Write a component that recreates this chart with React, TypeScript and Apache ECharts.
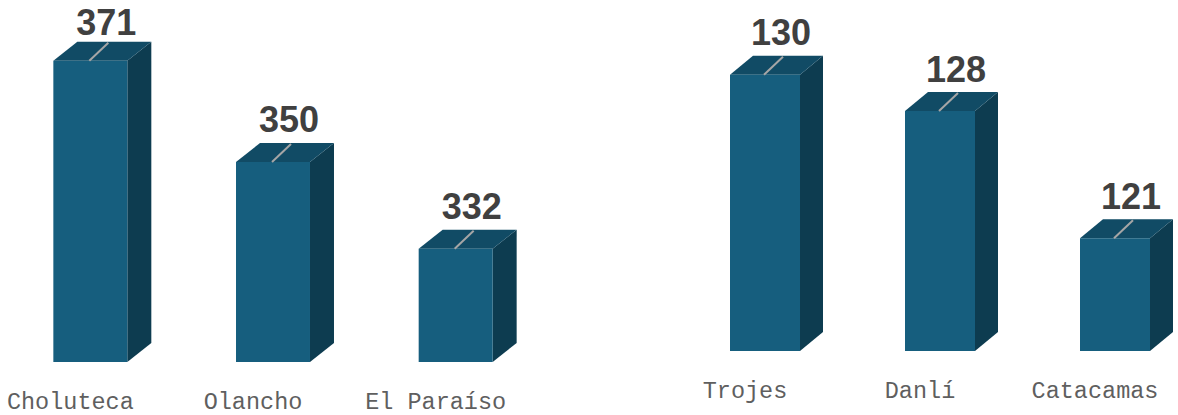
import React, { useEffect, useRef } from "react";
import * as echarts from "echarts";

const leftCategories = ["Choluteca", "Olancho", "El Paraíso"];
const leftValues = [371, 350, 332];
const rightCategories = ["Trojes", "Danlí", "Catacamas"];
const rightValues = [130, 128, 121];

const LEFT_MIN = 308.5;
const LEFT_MAX = 380.5;
const RIGHT_MIN = 114.8;
const RIGHT_MAX = 134;

const FRONT = "#165e7e";
const TOP = "#114b65";
const SIDE = "#0d3c50";

function makeRender(yMin: number, ratio: number, dx: number, dy: number) {
  return (params: any, api: any) => {
    const xi = api.value(0);
    const v = api.value(1);
    const topPt = api.coord([xi, v]);
    const basePt = api.coord([xi, yMin]);
    const band = api.size([1, 0])[0];
    const w = band * ratio;
    const cx = topPt[0];
    const L = cx - w / 2;
    const R = cx + w / 2;
    const t = topPt[1];
    const b = basePt[1];
    return {
      type: "group",
      children: [
        {
          type: "polygon",
          shape: { points: [[R, t], [R + dx, t - dy], [R + dx, b - dy], [R, b]] },
          style: { fill: SIDE },
        },
        {
          type: "polygon",
          shape: { points: [[L, t], [L + dx, t - dy], [R + dx, t - dy], [R, t]] },
          style: { fill: TOP },
        },
        {
          type: "rect",
          shape: { x: L, y: t, width: w, height: b - t },
          style: { fill: FRONT },
        },
        {
          type: "line",
          shape: { x1: cx - 1, y1: t, x2: cx + 18, y2: t - 18 },
          style: { stroke: "#a6a6a6", lineWidth: 2 },
        },
        {
          type: "text",
          x: cx + 16,
          y: Math.max(t - 42, 22),
          style: {
            text: String(v),
            fill: "#404040",
            font: "bold 36px 'Liberation Sans', Arial, sans-serif",
            textAlign: "center",
            textVerticalAlign: "middle",
          },
        },
      ],
    };
  };
}

export default function App() {
  const ref = useRef<HTMLDivElement>(null);
  useEffect(() => {
    if (!ref.current) return;
    const chart = echarts.init(ref.current, undefined, { renderer: "svg" });
    const axisLabel = {
      fontFamily: "'Liberation Mono', 'Courier New', monospace",
      fontSize: 23.5,
      color: "#5f5f5f",
      margin: 28,
      padding: [0, 40, 0, 0],
      interval: 0,
      hideOverlap: false,
    };
    chart.setOption({
      animation: false,
      grid: [
        { left: -1, width: 548, top: 15, bottom: 53, outerBoundsMode: "none", containLabel: false },
        { left: 677.5, width: 525, top: 2, bottom: 64, outerBoundsMode: "none", containLabel: false },
      ],
      xAxis: [
        {
          type: "category",
          gridIndex: 0,
          data: leftCategories,
          axisLine: { show: false },
          axisTick: { show: false },
          axisLabel,
        },
        {
          type: "category",
          gridIndex: 1,
          data: rightCategories,
          axisLine: { show: false },
          axisTick: { show: false },
          axisLabel,
        },
      ],
      yAxis: [
        { type: "value", gridIndex: 0, min: LEFT_MIN, max: LEFT_MAX, show: false, splitLine: { show: false } },
        { type: "value", gridIndex: 1, min: RIGHT_MIN, max: RIGHT_MAX, show: false, splitLine: { show: false } },
      ],
      series: [
        {
          type: "custom",
          xAxisIndex: 0,
          yAxisIndex: 0,
          renderItem: makeRender(LEFT_MIN, 0.405, 24, 19),
          data: leftValues.map((v, i) => [i, v]),
        },
        {
          type: "custom",
          xAxisIndex: 1,
          yAxisIndex: 1,
          renderItem: makeRender(RIGHT_MIN, 0.4, 23, 19),
          data: rightValues.map((v, i) => [i, v]),
        },
      ],
    });
    return () => chart.dispose();
  }, []);
  return (
    <div
      ref={ref}
      style={{ position: "fixed", left: 0, top: 0, width: 1178, height: 415, background: "#fff" }}
    />
  );
}
